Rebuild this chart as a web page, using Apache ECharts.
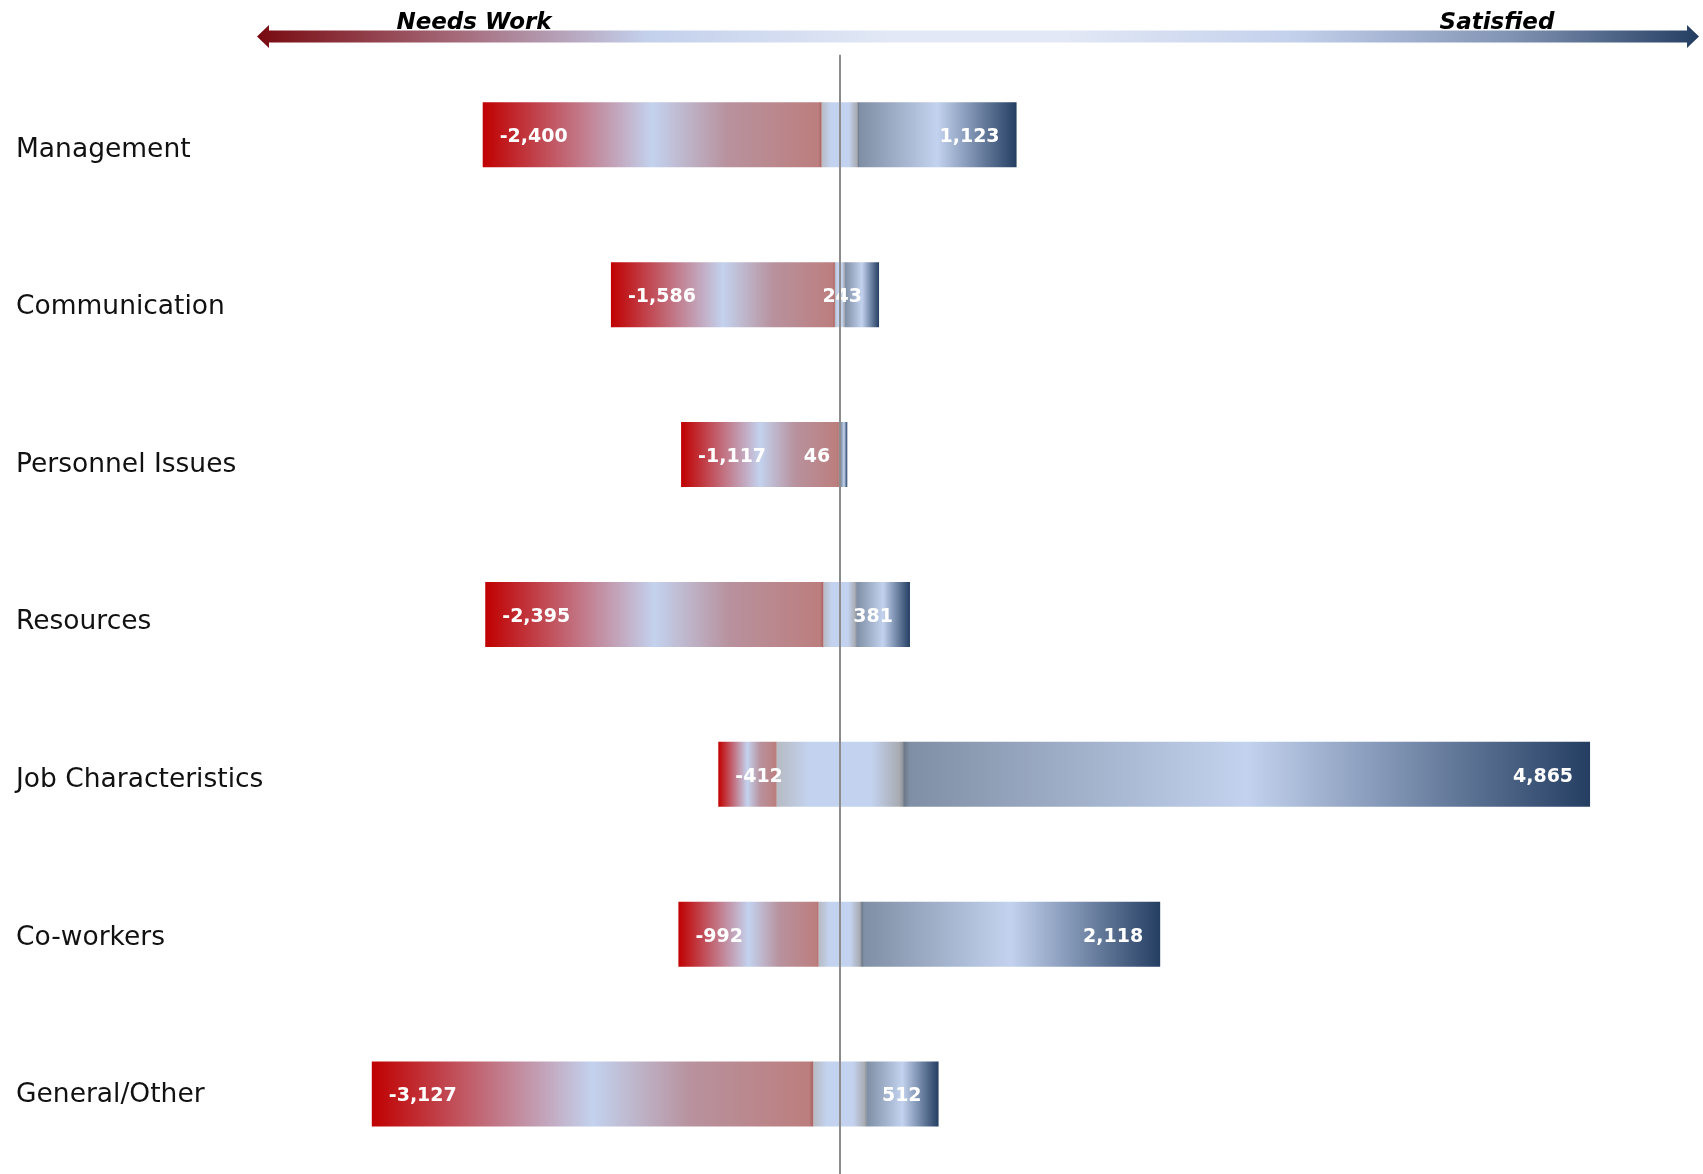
<!DOCTYPE html>
<html>
<head>
<meta charset="utf-8">
<script src="https://cdn.jsdelivr.net/npm/echarts@6/dist/echarts.min.js"></script>
<style>
html,body{margin:0;padding:0;background:#fff;}
#chart{width:1703px;height:1174px;}
</style>
</head>
<body>
<div id="chart"></div>
<script>
// ---- data ----
const categories = ['Management','Communication','Personnel Issues','Resources','Job Characteristics','Co-workers','General/Other'];
const needsWork  = [2400, 1586, 1117, 2395, 412, 992, 3127];
const neutral    = [258, 70, 14, 232, 897, 302, 375];
const satisfied  = [1123, 243, 46, 381, 4865, 2118, 512];
const axisTitles = ['Needs Work', 'Satisfied'];

const fmt = v => Math.abs(v) >= 1 ? (v < 0 ? '-' : '') + Math.round(Math.abs(v)).toLocaleString('en-US') : '';

function grad(stops){
  return {type:'linear', x:0, y:0, x2:1, y2:0,
    colorStops: stops.map(s => ({offset:s[0], color:s[1]}))};
}

const chart = echarts.init(document.getElementById('chart'), null, {renderer:'canvas'});

const labelFont = {color:'#ffffff', fontFamily:'DejaVu Sans', fontWeight:'bold', fontSize:19, offset:[0,2.5]};

const option = {
  animation:false,
  backgroundColor:'#ffffff',
  grid:[
    {left:275, width:1412, top:54.8, height:1127},
    {left:275, width:1412, top:71, height:1115}
  ],
  xAxis:[
    {type:'value', gridIndex:0, min:-4000, max:6000, show:false},
    {type:'value', gridIndex:1, min:-4000, max:6000, show:false}
  ],
  yAxis:[
    {type:'category', gridIndex:0, data:categories, inverse:true, show:false},
    {type:'category', gridIndex:1, data:categories, inverse:true,
      axisLine:{show:false}, axisTick:{show:false}, splitLine:{show:false},
      axisLabel:{align:'left', margin:259, fontFamily:'DejaVu Sans', fontSize:26.5, color:'#111111'}}
  ],
  series:[
    {name:'Neutral (left)', type:'bar', stack:'total', barWidth:65,
      data: neutral.map(v => -v/2),
      itemStyle:{color:grad([[0,'#b6bac2'],[0.5,'#c3d2ee'],[1,'#c3d2ee']])},
      markLine:{silent:true, symbol:'none', label:{show:false},
        lineStyle:{color:'#8c8c8c', width:2, type:'solid'},
        data:[{xAxis:0}]}
    },
    {name:'Neutral (right)', type:'bar', stack:'total', barWidth:65,
      data: neutral.map(v => v/2),
      itemStyle:{color:grad([[0,'#c3d2ee'],[0.5,'#c3d2ee'],[0.94,'#a8abb2'],[1,'#8e929a']])}
    },
    {name:'Needs Work', type:'bar', stack:'total', barWidth:65,
      data: needsWork.map(v => -v),
      itemStyle:{color:grad([[0,'#c00000'],[0.5,'#c3d2ee'],[0.72,'#b8929e'],[0.99,'#bc7e7e'],[1,'#a86262']])},
      label:Object.assign({show:true, position:'insideLeft', distance:17,
        formatter:p => fmt(p.value)}, labelFont)
    },
    {name:'Satisfied', type:'bar', stack:'total', barWidth:65,
      data: satisfied,
      itemStyle:{color:grad([[0,'#6a7584'],[0.01,'#7f8fa5'],[0.5,'#c3d2ee'],[1,'#243e62']])},
      label:Object.assign({show:true, position:'insideRight', distance:17,
        formatter:p => fmt(p.value)}, labelFont)
    }
  ],
  graphic:[
    {type:'polygon', z:10,
      shape:{points:[[257,36.5],[269,25],[269,30.5],[1687,30.5],[1687,25],[1699,36.5],[1687,48],[1687,42.5],[269,42.5],[269,48]]},
      style:{fill:grad([[0,'#780a10'],[0.14,'#a56a7a'],[0.27,'#c3d0ec'],[0.44,'#e2e8f5'],[0.56,'#e2e8f5'],[0.72,'#c3d0ec'],[0.87,'#8193b3'],[1,'#243e62']])}
    },
    {type:'text', z:11, x:474, y:23.5,
      style:{text:axisTitles[0], fill:'#000', font:'italic bold 23px "DejaVu Sans"', textAlign:'center', textVerticalAlign:'middle'}},
    {type:'text', z:11, x:1497, y:23.5,
      style:{text:axisTitles[1], fill:'#000', font:'italic bold 23px "DejaVu Sans"', textAlign:'center', textVerticalAlign:'middle'}}
  ]
};
chart.setOption(option);
</script>
</body>
</html>
